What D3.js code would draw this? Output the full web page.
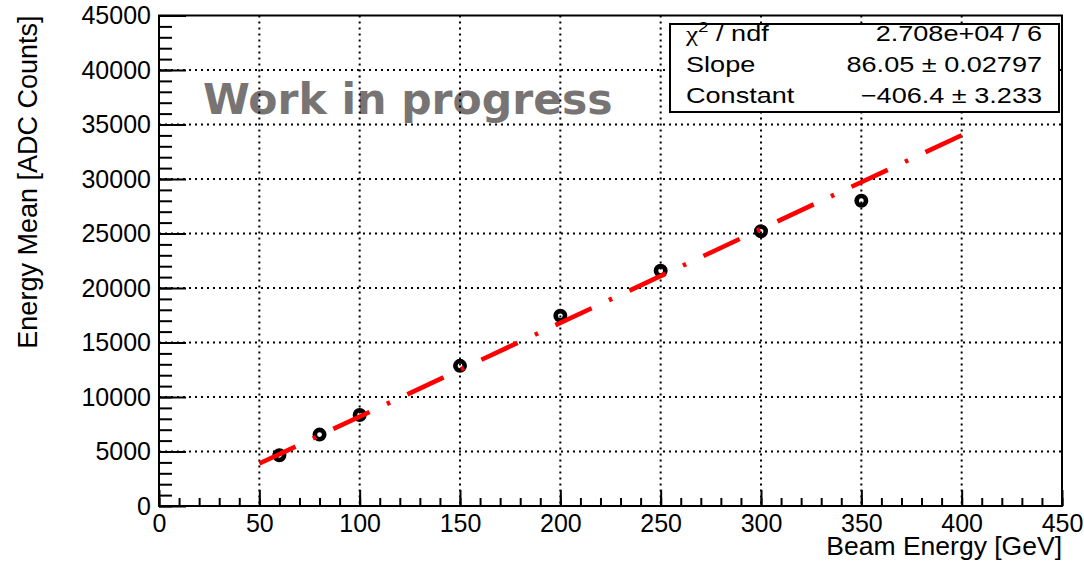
<!DOCTYPE html>
<html>
<head>
<meta charset="utf-8">
<script src="https://cdn.jsdelivr.net/npm/d3@7"></script>
<style>
  body { margin: 0; background: #fff; }
  svg { display: block; }
</style>
</head>
<body>
<div id="chart"></div>
<script>
// measured points (Beam Energy [GeV] vs Energy Mean [ADC Counts])
var beamEnergy = [60, 80, 100, 150, 200, 250, 300, 350];
var energyMean = [4650, 6550, 8350, 12860, 17450, 21580, 25200, 28010];

// fit result from the stats box
var fitSlope = 86.05,
    fitConstant = -406.4,
    fitRange = [50, 400];

var statLabels = ["χ", "Slope", "Constant"];
var statValues = ["2.708e+04 / 6", "86.05 \u00b1 0.02797", "\u2212406.4 \u00b1 3.233"];

var xTicks = [0, 50, 100, 150, 200, 250, 300, 350, 400, 450];
var yTicks = [0, 5000, 10000, 15000, 20000, 25000, 30000, 35000, 40000, 45000];

var W = 1084, H = 564;
var frame = {left: 159, right: 1062, top: 15.5, bottom: 506};
var font = "'Liberation Sans', Arial, Helvetica, sans-serif";

var svg = d3.select("#chart").append("svg")
    .attr("width", W)
    .attr("height", H);

var x = d3.scaleLinear().domain([0, 450]).range([frame.left, frame.right]);
var y = d3.scaleLinear().domain([0, 45000]).range([frame.bottom, frame.top]);

var xMinor = d3.range(0, 451, 10),
    yMinor = d3.range(0, 45001, 1000);

// watermark (sits under the grid)
svg.append("text")
    .attr("x", 203)
    .attr("y", 114)
    .attr("font-family", "'DejaVu Sans', Verdana, sans-serif")
    .attr("font-weight", "bold")
    .attr("font-size", 42.5)
    .attr("fill", "#787474")
    .text("Work in progress");

// dotted grid at the major ticks
var grid = svg.append("g")
    .attr("stroke", "#000")
    .attr("stroke-width", 2)
    .attr("stroke-dasharray", "2,4");

grid.selectAll("line.vx")
    .data(xTicks.slice(1, -1))
    .enter().append("line")
    .attr("class", "vx")
    .attr("x1", function(d) { return x(d); })
    .attr("x2", function(d) { return x(d); })
    .attr("y1", frame.top)
    .attr("y2", frame.bottom);

grid.selectAll("line.hy")
    .data(yTicks.slice(1, -1))
    .enter().append("line")
    .attr("class", "hy")
    .attr("y1", function(d) { return y(d); })
    .attr("y2", function(d) { return y(d); })
    .attr("x1", frame.left)
    .attr("x2", frame.right);

// axes, ticks pointing inside the frame
function styleAxis(g) {
    g.select(".domain").remove();
    g.selectAll("line").attr("stroke-width", 2);
    g.attr("font-size", 25).attr("font-family", font);
    g.selectAll("text").attr("fill", "#000");
}

svg.append("g")
    .attr("transform", "translate(0," + frame.bottom + ")")
    .call(d3.axisBottom(x).tickValues(xMinor).tickSize(-8).tickFormat(""))
    .call(styleAxis);

svg.append("g")
    .attr("transform", "translate(0," + frame.bottom + ")")
    .call(d3.axisBottom(x).tickValues(xTicks).tickSize(-16).tickPadding(8).tickFormat(d3.format("d")))
    .call(styleAxis);

svg.append("g")
    .attr("transform", "translate(" + frame.left + ",0)")
    .call(d3.axisLeft(y).tickValues(yMinor).tickSize(-13).tickFormat(""))
    .call(styleAxis);

svg.append("g")
    .attr("transform", "translate(" + frame.left + ",0)")
    .call(d3.axisLeft(y).tickValues(yTicks).tickSize(-27).tickPadding(8).tickFormat(d3.format("d")))
    .call(styleAxis);

// frame
svg.append("rect")
    .attr("x", frame.left)
    .attr("y", frame.top)
    .attr("width", frame.right - frame.left)
    .attr("height", frame.bottom - frame.top)
    .attr("fill", "none")
    .attr("stroke", "#000")
    .attr("stroke-width", 2);

// axis titles
svg.append("text")
    .attr("x", frame.right)
    .attr("y", 555)
    .attr("text-anchor", "end")
    .attr("font-family", font)
    .attr("font-size", 26.5)
    .text("Beam Energy [GeV]");

svg.append("text")
    .attr("transform", "translate(37," + frame.top + ") rotate(-90)")
    .attr("text-anchor", "end")
    .attr("font-family", font)
    .attr("font-size", 27)
    .text("Energy Mean [ADC Counts]");

// markers
var pts = beamEnergy.map(function(d, i) { return {e: d, m: energyMean[i]}; });

svg.append("g").selectAll("circle")
    .data(pts)
    .enter().append("circle")
    .attr("cx", function(d) { return x(d.e); })
    .attr("cy", function(d) { return y(d.m); })
    .attr("r", 4.7)
    .attr("fill", "none")
    .attr("stroke", "#000")
    .attr("stroke-width", 4.6);

// fit line, dash-dot
var fitLine = d3.line()
    .x(function(d) { return x(d); })
    .y(function(d) { return y(fitSlope * d + fitConstant); });

svg.append("path")
    .datum(fitRange)
    .attr("d", fitLine)
    .attr("fill", "none")
    .attr("stroke", "#ff0000")
    .attr("stroke-width", 4.6)
    .attr("stroke-dasharray", "40,19.1,3.5,19.1");

// stats box
var box = {x: 670, y: 24, w: 389, h: 88};
svg.append("rect")
    .attr("x", box.x)
    .attr("y", box.y)
    .attr("width", box.w)
    .attr("height", box.h)
    .attr("fill", "#fff")
    .attr("stroke", "#000")
    .attr("stroke-width", 2);

var rowBase = [41, 72, 103];
var sx = 1.26;

statLabels.forEach(function(lab, i) {
    var gl = svg.append("g")
        .attr("transform", "translate(686," + rowBase[i] + ") scale(" + sx + ",1)");
    var t = gl.append("text")
        .attr("font-family", font)
        .attr("font-size", 21.5);
    if (i === 0) {
        t.append("tspan").attr("font-family", "'Liberation Serif', 'DejaVu Serif', serif").text("χ");
        t.append("tspan").attr("font-size", 15).attr("dy", -9).text("2");
        t.append("tspan").attr("dy", 9).text(" / ndf");
    } else {
        t.text(lab);
    }

    svg.append("g")
        .attr("transform", "translate(1042," + rowBase[i] + ") scale(" + sx + ",1)")
        .append("text")
        .attr("text-anchor", "end")
        .attr("font-family", font)
        .attr("font-size", 21.5)
        .text(statValues[i]);
});
</script>
</body>
</html>
